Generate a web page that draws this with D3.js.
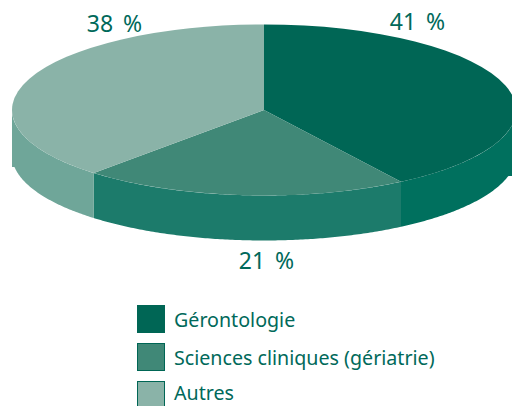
<!DOCTYPE html>
<html>
<head>
<meta charset="utf-8">
<script src="https://d3js.org/d3.v7.min.js"></script>
<style>
  html, body { margin: 0; padding: 0; background: #fff; overflow: hidden; }
  text { font-family: "Noto Sans", sans-serif; fill: #00695a; }
</style>
</head>
<body>
<div id="chart"></div>
<script>
const categories = ["Gérontologie", "Sciences cliniques (gériatrie)", "Autres"];
const shares = [40.85, 20.95, 38.2];
const shareLabels = ["41 %", "21 %", "38 %"];

const topColors = ["#006655", "#408877", "#8ab3a8"];
const wallColors = ["#00705e", "#1c7b6b", "#6fa699"];

const width = 512, height = 406;
const cx = 264, cy = 110, rx = 252, ry = 85.5, depth = 45;
// the wall ends in a small corner at each side instead of a true tangent
const floorLeft = 167, floorRight = 176;

const svg = d3.select("#chart").append("svg")
    .attr("width", width)
    .attr("height", height);

const slices = d3.pie().sort(null)(shares);

// Side walls, only the front half of the disc shows
const wall = d3.area()
    .x(a => cx + rx * Math.sin(a))
    .y0(a => cy - ry * Math.cos(a))
    .y1(a => Math.max(cy - ry * Math.cos(a) + depth, a > Math.PI ? floorLeft : floorRight));

slices.forEach((s, i) => {
    const from = Math.max(s.startAngle, Math.PI / 2);
    const to = Math.min(s.endAngle, Math.PI * 1.5);
    if (to <= from) return;
    svg.append("path")
        .attr("d", wall(d3.range(from, to, 0.01).concat(to)))
        .attr("fill", wallColors[i]);
});

// Top of the disc: a flat pie squashed into an ellipse
const arc = d3.arc().innerRadius(0).outerRadius(rx);
svg.append("g")
    .attr("transform", `translate(${cx},${cy}) scale(1,${ry / rx})`)
    .selectAll("path")
    .data(slices)
    .join("path")
    .attr("d", arc)
    .attr("fill", (d, i) => topColors[i]);

// Value labels
const labelPos = [[417.5, 30], [266.5, 269], [114.5, 32]];
svg.selectAll(".share")
    .data(shareLabels)
    .join("text")
    .attr("class", "share")
    .attr("x", (d, i) => labelPos[i][0])
    .attr("y", (d, i) => labelPos[i][1])
    .attr("text-anchor", "middle")
    .attr("font-size", 23)
    .attr("word-spacing", 4)
    .text(d => d);

// Legend
const legendY = d3.scalePoint().domain(categories).range([305, 381]);
const legend = svg.selectAll(".legend")
    .data(categories)
    .join("g")
    .attr("class", "legend")
    .attr("transform", d => `translate(137,${legendY(d)})`);
legend.append("rect")
    .attr("x", 0.5).attr("y", 0.5)
    .attr("width", 27).attr("height", 27)
    .attr("fill", (d, i) => topColors[i])
    .attr("stroke", "#006655");
legend.append("text")
    .attr("x", 37)
    .attr("y", (d, i) => i === 2 ? 19 : 22) // last row sits against the page bottom
    .attr("font-size", 19.65)
    .text(d => d);
</script>
</body>
</html>
